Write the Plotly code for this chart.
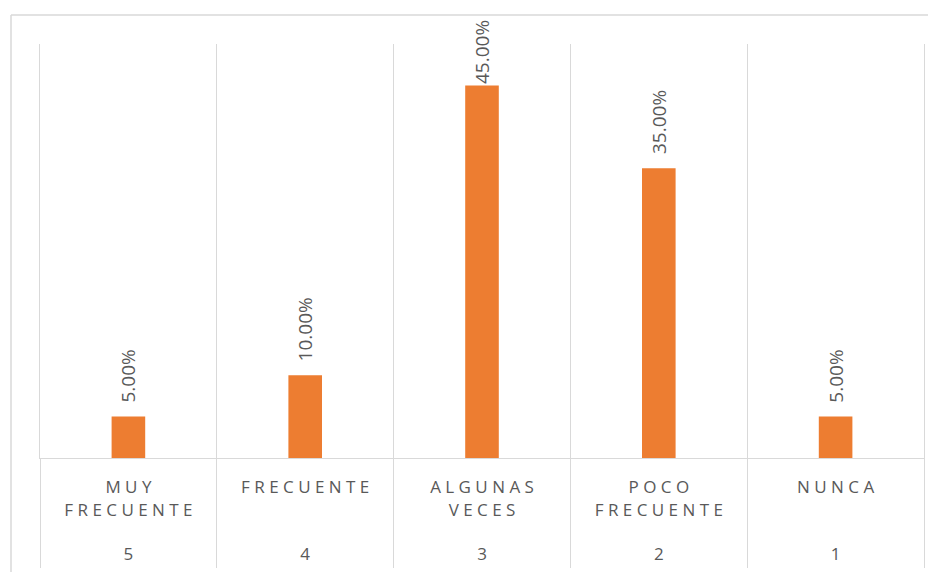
import plotly.graph_objects as go

categories = ["MUY FRECUENTE", "FRECUENTE", "ALGUNAS VECES", "POCO FRECUENTE", "NUNCA"]
label_lines = [["MUY", "FRECUENTE"], ["FRECUENTE"], ["ALGUNAS", "VECES"], ["POCO", "FRECUENTE"], ["NUNCA"]]
codes = ["5", "4", "3", "2", "1"]
values = [5.0, 10.0, 45.0, 35.0, 5.0]

OFF = 8  # page body margin
W, H = 936 - OFF, 572 - OFF
ML, MR, MT, MB = 40 - OFF, 12, 44 - OFF, 114
PH = H - MT - MB
PW = W - ML - MR
YMAX = 50
GRID = "#d9d9d9"
TXT = "#595959"
FONT = "Open Sans"
LABEL_SIZE = 19


def spaced(word):
    return " ".join(list(word))


ticktext = []
for lines, c in zip(label_lines, codes):
    rows = [spaced(w) for w in lines]
    while len(rows) < 3:
        rows.append("\u00a0")
    rows.append(c)
    ticktext.append("<br>".join(rows))

fig = go.Figure(go.Bar(
    x=categories, y=values, width=0.19,
    marker=dict(color="#ED7D31", line=dict(width=0)),
    hoverinfo="skip",
))

# data labels, kept inside the chart frame
px_per_unit = PH / YMAX
label_len = 62
gap = 13
frame_top = 15 - OFF          # chart frame top in px
allowed_top = frame_top + 8   # label may not rise above this
for c, v in zip(categories, values):
    bar_top = MT + PH - v * px_per_unit
    shift = max(0, min(gap, bar_top - label_len - allowed_top))
    fig.add_annotation(
        x=c, y=v, xref="x", yref="y", text=f"{v:.2f}%", textangle=-90,
        showarrow=False, yanchor="bottom", yshift=shift, borderpad=0,
        font=dict(family=FONT, size=LABEL_SIZE, color=TXT),
    )

# outer chart frame
fx = (11 - OFF - ML) / PW
fy = 1 + (MT - frame_top) / PH
fig.add_shape(type="line", xref="paper", yref="paper",
              x0=fx, x1=1.1, y0=fy, y1=fy, line=dict(color=GRID, width=1.5))
fig.add_shape(type="line", xref="paper", yref="paper",
              x0=fx, x1=fx, y0=fy, y1=-0.4, line=dict(color=GRID, width=1.5))

fig.update_layout(
    width=W, height=H,
    margin=dict(l=ML, r=MR, t=MT, b=MB, autoexpand=False),
    paper_bgcolor="white", plot_bgcolor="white",
    showlegend=False,
    xaxis=dict(
        type="category", tickmode="array", tickvals=categories, ticktext=ticktext,
        tickson="boundaries", ticks="outside", ticklen=109, tickcolor=GRID, tickwidth=1,
        ticklabelstandoff=14, automargin=False,
        showgrid=True, gridcolor=GRID, gridwidth=1,
        showline=True, linecolor=GRID, linewidth=1,
        tickfont=dict(family=FONT, size=17, color=TXT),
        range=[-0.5, 4.5],
    ),
    yaxis=dict(
        range=[0, YMAX], showticklabels=False, showgrid=False, zeroline=False,
        showline=True, mirror=True, linecolor=GRID, linewidth=1, ticks="",
        automargin=False,
    ),
)

fig.write_html("out.html")
